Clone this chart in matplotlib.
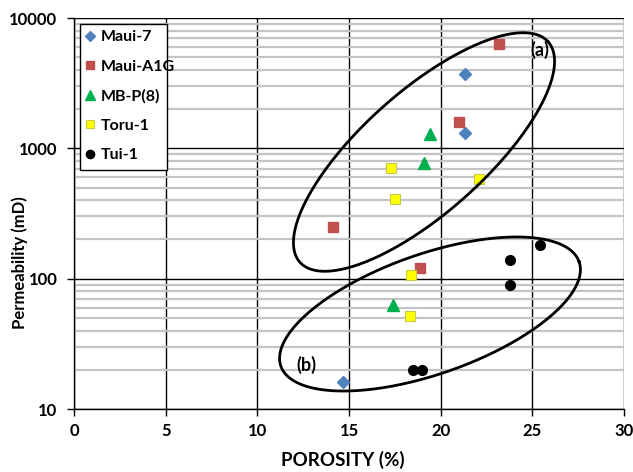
import numpy as np
import matplotlib
matplotlib.use("Agg")
import matplotlib.pyplot as plt
from matplotlib.patches import Rectangle
from matplotlib.ticker import LogLocator, FixedLocator, NullFormatter, FixedFormatter

plt.rcParams['font.family'] = ['Lato', 'DejaVu Sans']
plt.rcParams['font.weight'] = 'bold'

# Porosity (%) / permeability (mD) per well
maui7_por = [21.3, 21.3, 14.7]
maui7_perm = [3700, 1300, 16]

mauia1g_por = [23.2, 21.0, 14.1, 18.9]
mauia1g_perm = [6300, 1600, 250, 120]

mbp8_por = [19.4, 19.1, 17.4]
mbp8_perm = [1280, 770, 63]

toru1_por = [17.3, 22.1, 17.5, 18.4, 18.3]
toru1_perm = [710, 580, 410, 107, 52]

tui1_por = [25.4, 23.8, 23.8, 18.5, 19.0]
tui1_perm = [180, 140, 90, 20, 20]

x_ticks = [0, 5, 10, 15, 20, 25, 30]
y_ticks = [10, 100, 1000, 10000]
y_tick_labels = ["10", "100", "1000", "10000"]

FW, FH = 633.0, 472.0
L, T, W, H = 74.0, 18.0, 550.0, 391.0
fig = plt.figure(figsize=(FW / 100, FH / 100), dpi=100)
ax = fig.add_axes([L / FW, 1 - (T + H) / FH, W / FW, H / FH])


def ax_pt(px, py):
    """Image pixel position -> axes fraction."""
    return (px - L) / W, (T + H - py) / H


ax.set_xlim(0, 30)
ax.set_yscale('log')
ax.set_ylim(10, 10000)

ax.xaxis.set_major_locator(FixedLocator(x_ticks))
ax.yaxis.set_major_locator(FixedLocator(y_ticks))
ax.yaxis.set_major_formatter(FixedFormatter(y_tick_labels))
ax.yaxis.set_minor_locator(LogLocator(base=10, subs=np.arange(2, 10)))
ax.yaxis.set_minor_formatter(NullFormatter())

ax.grid(which='minor', axis='y', color='#c4c4c4', linewidth=1.6, zorder=0)
ax.grid(which='major', axis='both', color='black', linewidth=1.0, zorder=1)
ax.set_axisbelow(True)

for side in ('top', 'right'):
    ax.spines[side].set_visible(False)
for side in ('left', 'bottom'):
    ax.spines[side].set_linewidth(1.0)

ax.tick_params(axis='both', which='major', direction='out', length=5, width=1,
               labelsize=12)
ax.tick_params(axis='y', pad=7)
ax.tick_params(axis='x', pad=5)
ax.tick_params(axis='y', which='minor', length=0)
for lab in ax.get_xticklabels() + ax.get_yticklabels():
    lab.set_fontweight('bold')

fig.text(343 / FW, 1 - 460 / FH, 'POROSITY (%)', fontsize=13.5, fontweight='bold',
         ha='center', va='center')
fig.text(20 / FW, 1 - 263 / FH, 'Permeability (mD)', fontsize=12, fontweight='bold',
         ha='center', va='center', rotation=90)

ax.plot(maui7_por, maui7_perm, linestyle='none', marker='D', markersize=6,
        color='#4F81BD', markeredgecolor='#4F81BD', label='Maui-7', zorder=5)
ax.plot(mauia1g_por, mauia1g_perm, linestyle='none', marker='s', markersize=7,
        color='#C0504D', markeredgecolor='#C0504D', label='Maui-A1G', zorder=5)
ax.plot(mbp8_por, mbp8_perm, linestyle='none', marker='^', markersize=8,
        color='#00B050', markeredgecolor='#00B050', label='MB-P(8)', zorder=5)
ax.plot(toru1_por, toru1_perm, linestyle='none', marker='s', markersize=7,
        color='#FFFF00', markeredgecolor='#C8C84A', markeredgewidth=0.8,
        label='Toru-1', zorder=5)
ax.plot(tui1_por, tui1_perm, linestyle='none', marker='o', markersize=7,
        color='black', markeredgecolor='black', label='Tui-1', zorder=5)


# Group outlines, drawn in pixel units so they stay true ellipses on the log axis
def outline(cx, cy, a, b, ang):
    t = np.linspace(0, 2 * np.pi, 400)
    th = np.deg2rad(ang)
    px = cx + a * np.cos(t) * np.cos(th) - b * np.sin(t) * np.sin(th)
    py = cy - a * np.cos(t) * np.sin(th) - b * np.sin(t) * np.cos(th)
    u, v = ax_pt(px, py)
    ax.plot(u, v, transform=ax.transAxes, color='black',
            linewidth=2.0, zorder=6, clip_on=False)


outline(424, 152, 166, 61, 41.6)
outline(430, 314, 158, 60, 19.3)

ax.text(*ax_pt(540, 50), '(a)', transform=ax.transAxes,
        fontsize=13, fontweight='bold', ha='center', va='center', zorder=7)
ax.text(*ax_pt(306, 365), '(b)', transform=ax.transAxes,
        fontsize=13, fontweight='bold', ha='center', va='center', zorder=7)

# Legend box
box = Rectangle(ax_pt(80, 170), 87 / W, 146 / H,
                transform=ax.transAxes, facecolor='white', edgecolor='black',
                linewidth=1.0, zorder=9)
ax.add_patch(box)
leg = ax.legend(loc='upper left', bbox_to_anchor=ax_pt(82, 27),
                frameon=False, labelspacing=0.95, handlelength=0.6,
                handletextpad=0.35, borderaxespad=0, borderpad=0.2,
                prop={'size': 11.5, 'weight': 'bold'}, markerscale=0.85)
leg.set_zorder(10)

fig.savefig('out.png', dpi=100)
